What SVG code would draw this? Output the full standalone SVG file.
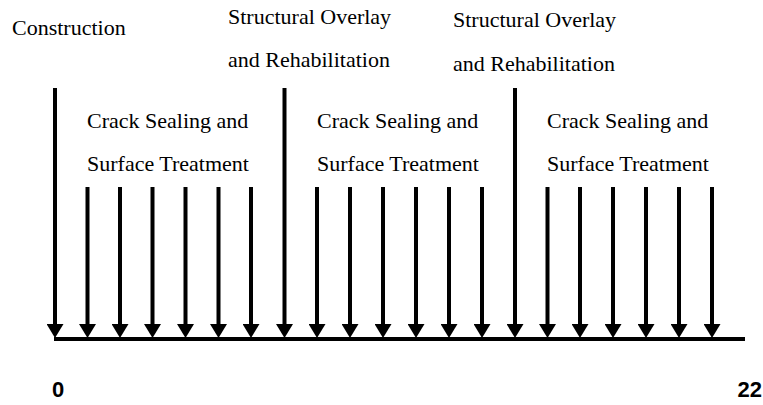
<svg xmlns="http://www.w3.org/2000/svg" width="763" height="405" viewBox="0 0 763 405">
<style>
.lbl{font-family:"Liberation Serif","Times New Roman",serif;font-size:22px;fill:#000}
.num{font-family:"Liberation Sans",Arial,sans-serif;font-size:22px;font-weight:bold;fill:#000}
.arr{stroke:#000;stroke-width:4;fill:none;marker-end:url(#ah)}
.axis{stroke:#000;stroke-width:4;fill:none}
</style>
<defs>
<marker id="ah" markerUnits="userSpaceOnUse" markerWidth="14" markerHeight="17" viewBox="0 0 14 17" refX="0" refY="8.5" orient="auto">
<path d="M0,0 L14,8.5 L0,17 z" fill="#000"/>
</marker>
</defs>
<rect width="763" height="405" fill="#fff"/>
<g id="connectors">
<line class="axis" x1="54" y1="339" x2="745" y2="339"/>
<line class="arr" x1="55" y1="88" x2="55" y2="324"/>
<line class="arr" x1="87.5" y1="187" x2="87.5" y2="324"/>
<line class="arr" x1="120" y1="187" x2="120" y2="324"/>
<line class="arr" x1="152.5" y1="187" x2="152.5" y2="324"/>
<line class="arr" x1="185.5" y1="187" x2="185.5" y2="324"/>
<line class="arr" x1="218.5" y1="187" x2="218.5" y2="324"/>
<line class="arr" x1="251" y1="187" x2="251" y2="324"/>
<line class="arr" x1="284.5" y1="88" x2="284.5" y2="324"/>
<line class="arr" x1="317" y1="187" x2="317" y2="324"/>
<line class="arr" x1="350" y1="187" x2="350" y2="324"/>
<line class="arr" x1="383" y1="187" x2="383" y2="324"/>
<line class="arr" x1="416" y1="187" x2="416" y2="324"/>
<line class="arr" x1="449" y1="187" x2="449" y2="324"/>
<line class="arr" x1="482" y1="187" x2="482" y2="324"/>
<line class="arr" x1="515" y1="88" x2="515" y2="324"/>
<line class="arr" x1="547.5" y1="187" x2="547.5" y2="324"/>
<line class="arr" x1="580" y1="187" x2="580" y2="324"/>
<line class="arr" x1="613" y1="187" x2="613" y2="324"/>
<line class="arr" x1="646" y1="187" x2="646" y2="324"/>
<line class="arr" x1="679" y1="187" x2="679" y2="324"/>
<line class="arr" x1="712" y1="187" x2="712" y2="324"/>
</g>
<g id="construction"><text class="lbl" x="12" y="35">Construction</text></g>
<g id="overlay1"><text class="lbl" x="228" y="24">Structural Overlay</text><text class="lbl" x="228" y="67">and Rehabilitation</text></g>
<g id="overlay2"><text class="lbl" x="453" y="27">Structural Overlay</text><text class="lbl" x="453" y="71">and Rehabilitation</text></g>
<g id="crack1"><text class="lbl" x="87" y="128">Crack Sealing and</text><text class="lbl" x="87" y="171">Surface Treatment</text></g>
<g id="crack2"><text class="lbl" x="317" y="128">Crack Sealing and</text><text class="lbl" x="317" y="171">Surface Treatment</text></g>
<g id="crack3"><text class="lbl" x="547" y="128">Crack Sealing and</text><text class="lbl" x="547" y="171">Surface Treatment</text></g>
<g id="start"><text class="num" x="52" y="397">0</text></g>
<g id="end"><text class="num" x="762" y="397" text-anchor="end">22</text></g>
</svg>
